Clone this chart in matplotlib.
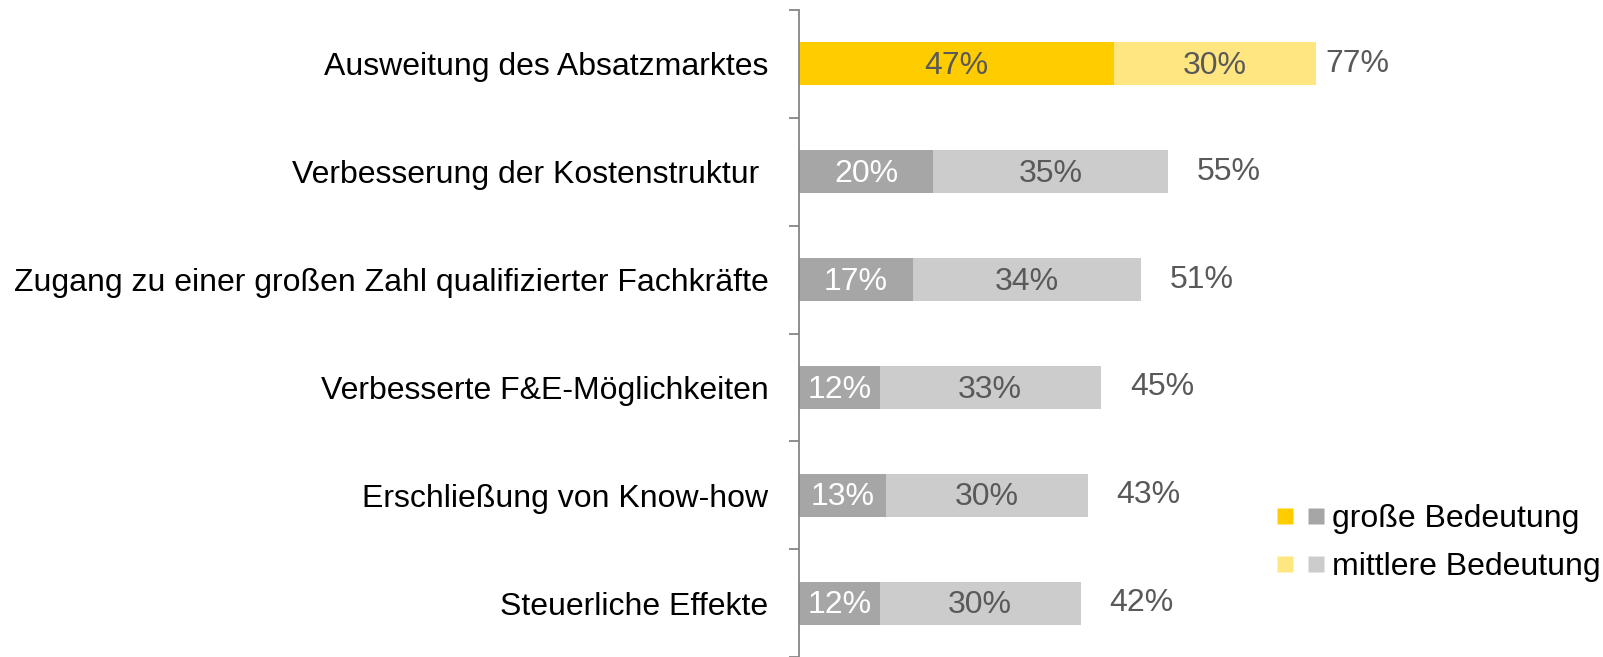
import matplotlib
matplotlib.use("Agg")
import matplotlib.pyplot as plt
from matplotlib.lines import Line2D
from matplotlib.legend_handler import HandlerTuple
import numpy as np

plt.rcParams['font.family'] = ['Liberation Sans', 'DejaVu Sans']

categories = [
    "Ausweitung des Absatzmarktes",
    "Verbesserung der Kostenstruktur ",
    "Zugang zu einer großen Zahl qualifizierter Fachkräfte",
    "Verbesserte F&E-Möglichkeiten",
    "Erschließung von Know-how",
    "Steuerliche Effekte",
]
gross = [47, 20, 17, 12, 13, 12]
mittel = [30, 35, 34, 33, 30, 30]
totals = [77, 55, 51, 45, 43, 42]
legend_labels = ["große Bedeutung", "mittlere Bedeutung"]

Y_DARK, Y_LIGHT = "#FFCC00", "#FFE680"
G_DARK, G_LIGHT = "#A6A6A6", "#CCCCCC"
TXT = "#595959"
FS = 23

fig = plt.figure(figsize=(16.03, 6.57), dpi=100)
ax = fig.add_axes([799 / 1603, 0.0, 1 - 799 / 1603, 1 - 10 / 657])

n = len(categories)
y = np.arange(n)
h = 0.4
for i in range(n):
    c1 = Y_DARK if i == 0 else G_DARK
    c2 = Y_LIGHT if i == 0 else G_LIGHT
    ax.barh(y[i], gross[i], height=h, color=c1, edgecolor='none')
    ax.barh(y[i], mittel[i], left=gross[i], height=h, color=c2, edgecolor='none')
    ax.text(gross[i] / 2, y[i] + 0.02, f"{gross[i]}%", ha='center', va='center',
            fontsize=FS, color=(TXT if i == 0 else 'white'))
    ax.text(gross[i] + mittel[i] / 2, y[i] + 0.02, f"{mittel[i]}%", ha='center', va='center',
            fontsize=FS, color=TXT)
    off = 1.5 if i == 0 else 4.3
    ax.text(totals[i] + off, y[i], f"{totals[i]}%", ha='left', va='center',
            fontsize=FS, color=TXT)

ax.set_ylim(n - 0.5, -0.5)
ax.set_xlim(0, (1603 - 799) / 6.71)
ax.set_yticks(y)
ax.set_yticklabels(categories, fontsize=FS, color='black')
ax.set_yticks(np.arange(n + 1) - 0.5, minor=True)
ax.tick_params(axis='y', which='major', length=0, pad=22)
ax.tick_params(axis='y', which='minor', length=7, width=1.3, color='#868686', direction='out')
ax.set_xticks([])
for s in ['top', 'right', 'bottom']:
    ax.spines[s].set_visible(False)
ax.spines['left'].set_color('#868686')
ax.spines['left'].set_linewidth(1.3)

h1 = (Line2D([], [], ls='none', marker='s', ms=11, mfc=Y_DARK, mec='none'),
      Line2D([], [], ls='none', marker='s', ms=11, mfc=G_DARK, mec='none'))
h2 = (Line2D([], [], ls='none', marker='s', ms=11, mfc=Y_LIGHT, mec='none'),
      Line2D([], [], ls='none', marker='s', ms=11, mfc=G_LIGHT, mec='none'))
leg = fig.legend([h1, h2], legend_labels, handler_map={tuple: HandlerTuple(ndivide=None, pad=0.35)},
                 loc='center left', bbox_to_anchor=(1275 / 1603, 1 - 543 / 657),
                 frameon=False, fontsize=FS, handlelength=1.6, handletextpad=0.2,
                 labelspacing=0.55, borderaxespad=0, borderpad=0)

fig.savefig("out.png", dpi=100)
